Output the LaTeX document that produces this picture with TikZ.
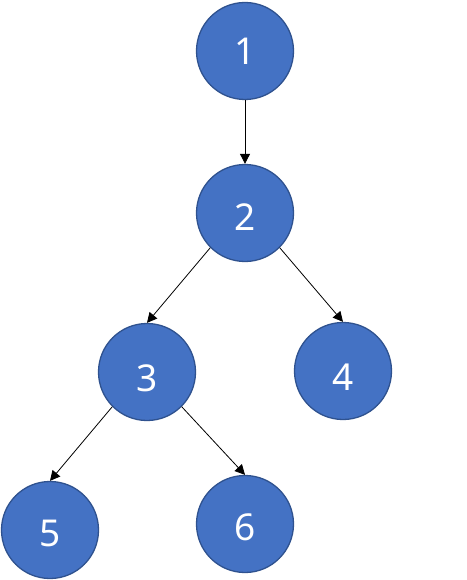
\documentclass[tikz,border=0pt]{standalone}
\usepackage{fontspec}
\setmainfont{Noto Sans}
\usetikzlibrary{arrows.meta}
\definecolor{nodefill}{HTML}{4472C4}
\definecolor{nodeedge}{HTML}{2F528F}
\begin{document}
\begin{tikzpicture}[x=1pt,y=-1pt,
  treenode/.style={circle,fill=nodefill,draw=nodeedge,line width=1.3pt,minimum size=97pt,inner sep=0pt},
  digit/.style={text=white,font=\fontsize{37}{40}\selectfont,inner sep=0pt},
  edge/.style={line width=0.8pt,-{Triangle[length=10pt,width=10pt]}}]
\useasboundingbox (0,0) rectangle (466,580);
\node[treenode,label={[digit,yshift=0pt]center:1}] (n1) at (245,51) {};
\node[treenode,label={[digit,yshift=-4pt]center:2}] (n2) at (245,213) {};
\node[treenode,label={[digit,yshift=-6pt]center:3}] (n3) at (147,372) {};
\node[treenode,label={[digit,yshift=-6pt]center:4}] (n4) at (343,371) {};
\node[treenode,label={[digit,yshift=-3pt]center:5}] (n5) at (50,530) {};
\node[treenode,label={[digit,yshift=-3pt]center:6}] (n6) at (245,524) {};
\draw[edge] (n1.south) -- (n2.north);
\draw[edge] (n2.south west) -- (n3.north);
\draw[edge] (n2.south east) -- (n4.north);
\draw[edge] (n3.south west) -- (n5.north);
\draw[edge] (n3.south east) -- (n6.north);
\end{tikzpicture}
\end{document}
